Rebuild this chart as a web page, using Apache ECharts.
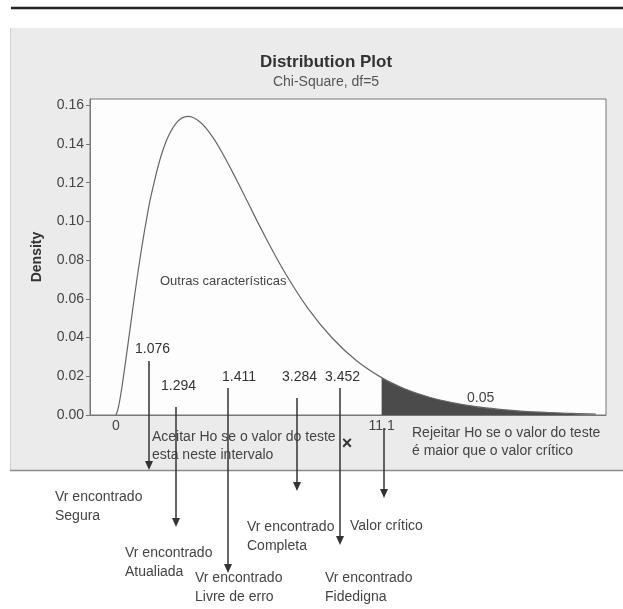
<!DOCTYPE html>
<html>
<head>
<meta charset="utf-8">
<script src="https://cdn.jsdelivr.net/npm/echarts@6/dist/echarts.min.js"></script>
<style>html,body{margin:0;padding:0;background:#fff}#c{width:623px;height:609px}</style>
</head>
<body>
<div id="c"></div>
<script>
// Chi-square (df=5) density
const xValues = [0, 0.1, 0.25, 0.5, 0.75, 1, 1.25, 1.5, 2, 2.5, 3, 3.5, 4, 4.5, 5, 5.5, 6, 7, 8, 9, 10, 11.07, 12, 13, 14, 15, 16, 17, 18, 19, 20];
const density = [0, 0.0040, 0.0147, 0.0366, 0.0594, 0.0807, 0.0995, 0.1154, 0.1384, 0.1506, 0.1542, 0.1513, 0.1440, 0.1338, 0.1220, 0.1097, 0.0973, 0.0744, 0.0551, 0.0399, 0.0283, 0.0193, 0.0137, 0.0094, 0.0064, 0.0043, 0.0029, 0.0019, 0.0013, 0.0008, 0.0005];
const criticalValue = 11.07;
const tailProbability = '0.05';
const yTicks = [0, 0.02, 0.04, 0.06, 0.08, 0.10, 0.12, 0.14, 0.16];
const xTicks = [0, criticalValue];
const testValues = ['1.076', '1.294', '1.411', '3.284', '3.452'];
const foundLabels = ['Vr encontrado\nSegura', 'Vr encontrado\nAtualiada', 'Vr encontrado\nLivre de erro', 'Vr encontrado\nCompleta', 'Vr encontrado\nFidedigna'];

const curve = xValues.map((x, i) => [x, density[i]]);
const tail = curve.filter(p => p[0] >= criticalValue);

const FONT = '"Liberation Sans", Arial, sans-serif';
const TXT = '#444';

function txt(text, x, y, extra) {
  return {
    type: 'text', z: 50,
    style: Object.assign({ text: text, x: x, y: y, fill: TXT, font: '14px ' + FONT, verticalAlign: 'middle' }, extra || {})
  };
}
function arrow(x, y1, tip) {
  return [
    { type: 'line', z: 60, shape: { x1: x, y1: y1, x2: x, y2: tip - 5 }, style: { stroke: '#333', lineWidth: 1.5 } },
    { type: 'polygon', z: 60, shape: { points: [[x - 4, tip - 9], [x + 4, tip - 9], [x, tip]] }, style: { fill: '#333' } }
  ];
}

// annotation layout (pixel positions of the decorative callouts)
const numPos = [[135, 349], [161, 386], [222, 377], [282, 377], [325, 377]];
const labelPos = [[55, 488], [125, 544], [195, 569], [247, 518], [325, 569]];
const arrowPos = [[149, 361, 470], [176, 407, 527], [228, 388, 573], [297, 398, 491], [340, 388, 545], [384, 428, 498]];

const graphics = [
  { type: 'rect', z: 40, shape: { x: 0, y: 0, width: 623, height: 28 }, style: { fill: '#fff' } },
  { type: 'rect', z: 40, shape: { x: 0, y: 28, width: 10, height: 443 }, style: { fill: '#fff' } },
  { type: 'rect', z: 40, shape: { x: 0, y: 471, width: 623, height: 138 }, style: { fill: '#fff' } },
  { type: 'line', z: 41, shape: { x1: 11, y1: 8, x2: 623, y2: 8 }, style: { stroke: '#222', lineWidth: 2.5 } },
  { type: 'line', z: 41, shape: { x1: 10.5, y1: 28, x2: 10.5, y2: 470 }, style: { stroke: '#cfcfcf', lineWidth: 1 } },
  { type: 'line', z: 41, shape: { x1: 10, y1: 470.5, x2: 623, y2: 470.5 }, style: { stroke: '#8a8a8a', lineWidth: 1.5 } },
  txt('Outras características', 160, 281, { fill: '#444', font: '13px ' + FONT }),
  txt(tailProbability, 467, 398),
  txt('Aceitar Ho se o valor do teste\nesta neste intervalo', 152, 428, { verticalAlign: 'top', lineHeight: 18 }),
  txt('×', 347, 444, { align: 'center', font: 'bold 18px ' + FONT, fill: '#333' }),
  txt('Rejeitar Ho se o valor do teste\né maior que o valor crítico', 412, 424, { verticalAlign: 'top', lineHeight: 18 }),
  txt('Valor crítico', 350, 526)
];
testValues.forEach((t, i) => graphics.push(txt(t, numPos[i][0], numPos[i][1], { fill: '#333' })));
foundLabels.forEach((t, i) => graphics.push(txt(t, labelPos[i][0], labelPos[i][1], { verticalAlign: 'top', lineHeight: 19 })));
arrowPos.forEach(a => arrow(a[0], a[1], a[2]).forEach(g => graphics.push(g)));

const chart = echarts.init(document.getElementById('c'), null, { renderer: 'canvas' });
chart.setOption({
  backgroundColor: '#ebebeb',
  animation: false,
  title: {
    text: 'Distribution Plot',
    subtext: 'Chi-Square, df=5',
    left: 321, top: 49, textAlign: 'center', itemGap: 4,
    textStyle: { fontFamily: FONT, fontSize: 17, fontWeight: 'bold', color: '#333' },
    subtextStyle: { fontFamily: FONT, fontSize: 14, color: '#555' }
  },
  grid: { left: 90, right: 17, top: 99, bottom: 194, show: true, backgroundColor: '#fdfdfd', borderColor: '#777', borderWidth: 1 },
  xAxis: {
    type: 'value', min: -1.083, max: 20.42,
    axisLine: { show: true, onZero: false, lineStyle: { color: '#777' } },
    axisTick: { show: false },
    splitLine: { show: false },
    axisLabel: { customValues: xTicks, formatter: v => (v === 0 ? '0' : v.toFixed(1)), color: '#444', fontSize: 14, fontFamily: FONT, margin: 4 }
  },
  yAxis: {
    type: 'value', min: 0, max: 0.1632,
    name: 'Density', nameLocation: 'middle', nameGap: 46,
    nameTextStyle: { fontFamily: FONT, fontSize: 14, fontWeight: 'bold', color: '#333' },
    axisLine: { show: true, onZero: false, lineStyle: { color: '#777' } },
    axisTick: { show: true, length: 4, customValues: yTicks, lineStyle: { color: '#777' } },
    splitLine: { show: false },
    axisLabel: { customValues: yTicks, formatter: v => v.toFixed(2), color: '#444', fontSize: 14, fontFamily: FONT, margin: 6 }
  },
  series: [
    { type: 'line', data: tail, symbol: 'none', smooth: 0.4, z: 2,
      lineStyle: { width: 0 }, areaStyle: { color: '#4b4b4b', opacity: 1 } },
    { type: 'line', data: curve, symbol: 'none', smooth: 0.4, z: 3,
      lineStyle: { color: '#666', width: 1.2 } }
  ],
  graphic: graphics
});
</script>
</body>
</html>
